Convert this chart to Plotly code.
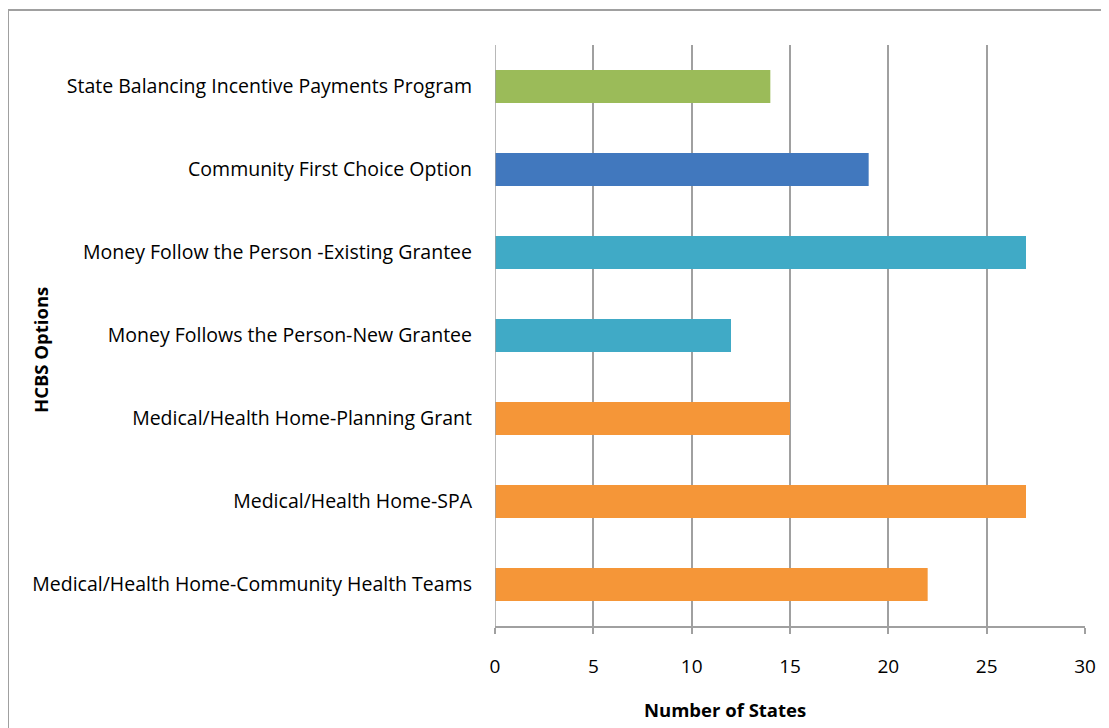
import plotly.graph_objects as go

categories = [
    "Medical/Health Home-Community Health Teams",
    "Medical/Health Home-SPA",
    "Medical/Health Home-Planning Grant",
    "Money Follows the Person-New Grantee",
    "Money Follow the Person -Existing Grantee",
    "Community First Choice Option",
    "State Balancing Incentive Payments Program",
]
states = [22, 27, 15, 12, 27, 19, 14]
bar_colors = ["#F59638", "#F59638", "#F59638", "#40AAC6", "#40AAC6", "#4178BE", "#9BBB59"]
x_ticks = [0, 5, 10, 15, 20, 25, 30]

# the page body has an 8px margin, so work in screen pixels minus 8
OFF = 8
W, H = 1109 - OFF, 728 - OFF
L, R, T, B = 495 - OFF, 1085 - OFF, 45 - OFF, 626 - OFF

fig = go.Figure(go.Bar(
    y=categories, x=states, orientation="h",
    marker=dict(color=bar_colors, line=dict(width=0)),
))

font = "Open Sans, Liberation Sans, sans-serif"

fig.update_layout(
    width=W, height=H,
    margin=dict(l=L, r=W - R, t=T, b=H - B),
    paper_bgcolor="white", plot_bgcolor="white",
    bargap=0.6,
    showlegend=False,
    font=dict(family=font, size=19.5, color="#000"),
    xaxis=dict(
        range=[0, 30], tickvals=x_ticks,
        showgrid=True, gridcolor="#A0A0A0", gridwidth=1.5,
        showline=True, linecolor="#A0A0A0", linewidth=1.5,
        ticks="outside", ticklen=6, tickcolor="#A0A0A0", tickwidth=1.5,
        ticklabelstandoff=16,
        zeroline=False, fixedrange=True,
        tickfont=dict(size=19),
    ),
    yaxis=dict(
        showgrid=False, showline=False, zeroline=False,
        ticks="", ticklabelstandoff=22,
    ),
)

# y=0 axis line drawn as vertical line at x=0
fig.add_shape(type="line", xref="x", yref="paper", x0=0, x1=0, y0=0, y1=1,
              line=dict(color="#A0A0A0", width=1.5))

# screen pixel -> paper coordinate
def px_x(p):
    return (p - OFF - L) / (R - L)

def px_y(p):
    return (B - (p - OFF)) / (B - T)

# outer chart border
fig.add_shape(type="rect", xref="paper", yref="paper",
              x0=px_x(8), x1=px_x(1130), y0=px_y(750), y1=px_y(10),
              line=dict(color="#A0A0A0", width=2), fillcolor="rgba(0,0,0,0)", layer="below")

fig.add_annotation(text="<b>Number of States</b>", xref="paper", yref="paper",
                   x=px_x(725), y=px_y(709), showarrow=False,
                   font=dict(size=18.5), xanchor="center", yanchor="middle")
fig.add_annotation(text="<b>HCBS Options</b>", xref="paper", yref="paper",
                   x=px_x(40), y=px_y(350), showarrow=False, textangle=-90,
                   font=dict(size=18.5), xanchor="center", yanchor="middle")

fig.write_html("out.html")
